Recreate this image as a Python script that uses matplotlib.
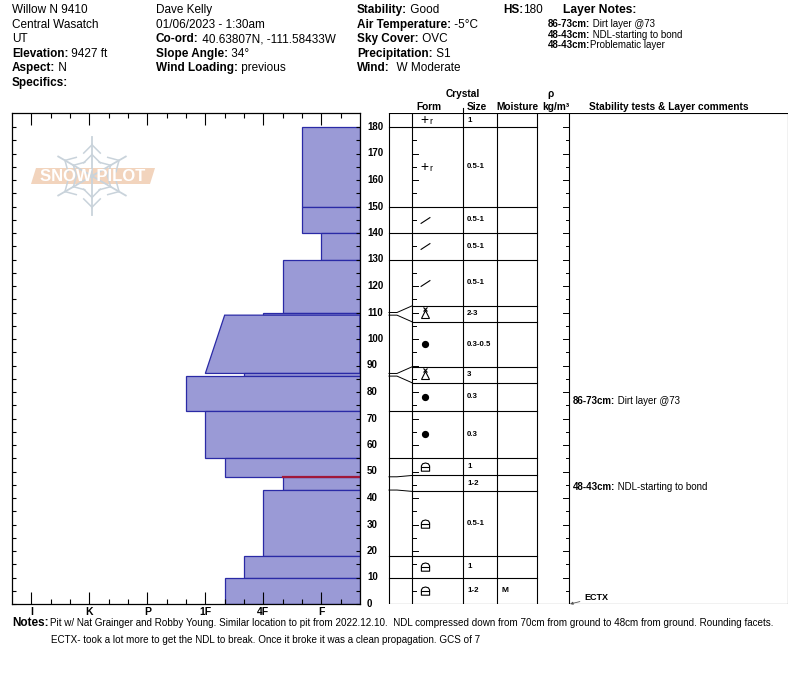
import matplotlib
matplotlib.use('Agg')
import matplotlib.pyplot as plt
import matplotlib.transforms as mtransforms
from matplotlib.path import Path
import numpy as np

plt.rcParams['font.family'] = ['Liberation Sans', 'DejaVu Sans']

# ---- pit header
site_lines = ['Willow N 9410', 'Central Wasatch', 'UT']
elevation = '9427 ft'
aspect = 'N'
observer = 'Dave Kelly'
date_time = '01/06/2023 - 1:30am'
coord = '40.63807N, -111.58433W'
slope_angle = '34°'
wind_loading = 'previous'
stability = 'Good'
air_temp = '-5°C'
sky_cover = 'OVC'
precip = 'S1'
wind = 'W Moderate'
hs = 180
layer_notes = [('86-73cm:', ' Dirt layer @73'),
               ('48-43cm:', ' NDL-starting to bond'),
               ('48-43cm:', 'Problematic layer')]
notes = ['Pit w/ Nat Grainger and Robby Young. Similar location to pit from 2022.12.10.  '
         'NDL compressed down from 70cm from ground to 48cm from ground. Rounding facets.',
         'ECTX- took a lot more to get the NDL to break. Once it broke it was a clean propagation. GCS of 7']

# ---- layers (cm from ground)
layer_top = [180, 180, 150, 140, 130, 110, 109, 87, 86, 73, 55, 48, 43, 18, 10]
layer_bot = [180, 150, 140, 130, 110, 109, 87, 86, 73, 55, 48, 43, 18, 10, 0]
hard_top = [None, 'F+', 'F+', 'F', '4F-', '4F', '1F-', '4F+', '1F+', '1F', '1F-', '4F-', '4F', '4F+', '1F-']
hard_bot = [None, 'F+', 'F+', 'F', '4F-', '4F', '1F', '4F+', '1F+', '1F', '1F-', '4F-', '4F', '4F+', '1F-']
grain = ['PPrm', 'PPrm', 'DF', 'DF', 'DF', 'SH', 'RG', 'SH', 'RG', 'RG', 'FCxr', '', 'FCxr', 'FCxr', 'FCxr']
grain_size = ['1', '0.5-1', '0.5-1', '0.5-1', '0.5-1', '2-3', '0.3-0.5', '3', '0.3', '0.3', '1', '1-2', '0.5-1', '1', '1-2']
moisture = ['', '', '', '', '', '', '', '', '', '', '', '', '', '', 'M']
problem_depth = 48
comment_layers = [(86, 73, 'Dirt layer @73'), (48, 43, 'NDL-starting to bond')]
tests = [('ECTX', 0)]
hardness_names = ['F', '4F', '1F', 'P', 'K', 'I']


def hard_val(h):
    base = h.rstrip('+-')
    v = hardness_names.index(base) * 3 + 2
    if h.endswith('+'):
        v += 1
    elif h.endswith('-'):
        v -= 1
    return v


W, H = 800, 676
fig = plt.figure(figsize=(8, 6.76), dpi=100)
renderer = fig.canvas.get_renderer()
ytop = (604 - 113) / 2.65  # cm at top of frame

# overlay in pixels for the logo
ov = fig.add_axes([0, 0, 1, 1])
ov.set_xlim(0, W)
ov.set_ylim(H, 0)
ov.axis('off')
cx, cy, R = 92, 176, 39
flake = '#c9d3db'
for k in range(6):
    a = np.pi / 2 + k * np.pi / 3
    ex, ey = np.cos(a), -np.sin(a)
    ov.plot([cx, cx + R * ex], [cy, cy + R * ey], color=flake, lw=1.3)
    for f in (0.55, 0.8):
        bx, by = cx + f * R * ex, cy + f * R * ey
        for s in (1, -1):
            b = a + s * np.pi / 4 + np.pi
            L = 0.3 * R
            ov.plot([bx, bx + L * np.cos(b)], [by, by - L * np.sin(b)], color=flake, lw=1.1)
ov.fill([36, 155, 150, 31], [168, 168, 184, 184], color='#f2d4bd', lw=0)
ov.text(93, 176.5, 'SNOW PILOT', color='white', fontsize=12, fontweight='bold',
        ha='center', va='center')

# ---- hardness profile
ax = fig.add_axes([12 / W, 1 - 604 / H, 348 / W, (604 - 113) / H])
ax.set_facecolor('none')
fill_c, edge_c = '#9a9ad6', '#2a2aa6'
for t, b, ht, hb in zip(layer_top, layer_bot, hard_top, hard_bot):
    if ht is None:
        continue
    ax.fill([0, hard_val(hb), hard_val(ht), 0], [b, b, t, t], facecolor=fill_c,
            edgecolor=edge_c, lw=0.9)
i = layer_top.index(problem_depth)
ax.plot([0, hard_val(hard_top[i])], [problem_depth, problem_depth], color='#a0183a', lw=1.6)
ax.set_xlim(18, 0)
ax.set_ylim(0, ytop)
majors = [hard_val(h) for h in hardness_names]
ax.set_xticks(majors)
ax.set_xticklabels(hardness_names, fontsize=7.5, fontweight='bold')
ax.set_xticks([v for v in range(1, 18) if v not in majors], minor=True)
ax.set_yticks(np.arange(0, 181, 5))
ax.set_yticklabels([])
ax.tick_params(axis='x', which='major', direction='in', length=8.5, width=0.8,
               top=True, bottom=True, pad=2)
ax.tick_params(axis='x', which='minor', direction='in', length=3.6, width=0.8,
               top=True, bottom=True)
ax.tick_params(axis='y', direction='in', length=3.2, width=0.8, left=True, right=True)
for s in ax.spines.values():
    s.set_linewidth(0.9)

# ---- table
tb = fig.add_axes([360 / W, 1 - 604 / H, 428 / W, (604 - 113) / H])
tb.set_xlim(360, 788)
tb.set_ylim(0, ytop)
tb.axis('off')
lc = 'black'
x_left, x_form, x_size, x_moist, x_rho, x_com, x_right = 389, 412, 463, 497, 537, 569, 788
for x in (x_left, x_form, x_size, x_moist, x_rho, x_com, x_right):
    tb.plot([x, x], [0, ytop], color=lc, lw=0.8)
tb.plot([x_size, x_size], [ytop, ytop + 2], color=lc, lw=0.8, clip_on=False)
tb.plot([x_left, x_right], [ytop, ytop], color=lc, lw=0.8)
tb.plot([x_left, x_right], [0, 0], color=lc, lw=0.8)

for d in np.arange(0, 181, 10):
    tb.text(367, d, str(d), fontsize=7, fontweight='bold', va='center', ha='left')
for d in np.arange(5, 185, 5):
    L = 6 if d % 10 == 0 else 3.5
    tb.plot([x_form, x_form + L], [d, d], color=lc, lw=0.7)
    tb.plot([x_com - L, x_com], [d, d], color=lc, lw=0.7)

# display rows: thin layers stretched to a minimum height
min_h = 6.0
disp_top = list(layer_top)
disp_bot = list(layer_bot)
for k in range(len(layer_top)):
    th = layer_top[k] - layer_bot[k]
    if k == 0 and th == 0:
        disp_top[k] = ytop
        continue
    if th < min_h:
        c = (layer_top[k] + layer_bot[k]) / 2
        disp_top[k] = c + min_h / 2
        disp_bot[k] = c - min_h / 2
for k in range(len(layer_top) - 1):
    if layer_top[k + 1] - layer_bot[k + 1] < min_h:
        disp_bot[k] = disp_top[k + 1]
    disp_top[k + 1] = disp_bot[k]

for k in range(len(layer_top) - 1):
    real = layer_bot[k]
    shown = disp_bot[k]
    if abs(real - shown) < 0.05:
        tb.plot([x_left, x_rho], [real, real], color=lc, lw=0.8)
    else:
        tb.plot([x_left, 397, x_form], [real, real, shown], color=lc, lw=0.7)
        tb.plot([x_form, x_rho], [shown, shown], color=lc, lw=0.8)

lock = Path([(0.5, 0.0), (0.5, 0.2), (0.35, 0.45), (0.0, 0.55), (-0.35, 0.45), (-0.5, 0.2),
             (-0.5, 0.0), (0.5, 0.0), (0.5, -0.45), (-0.5, -0.45), (-0.5, 0.0)])
slash = Path([(-1, -0.65), (1, 0.65)], [Path.MOVETO, Path.LINETO])
up = mtransforms.offset_copy(tb.transData, fig=fig, y=5, units='dots')
low = mtransforms.offset_copy(tb.transData, fig=fig, y=-1.5, units='dots')
fx = 425
for k in range(len(layer_top)):
    yc = (disp_top[k] + disp_bot[k]) / 2
    g = grain[k]
    if g.startswith('PP'):
        tb.text(fx - 1, yc, '+', fontsize=10, ha='center', va='center')
        tb.text(fx + 6, yc, 'r', fontsize=6.5, ha='center', va='center', transform=low)
    elif g == 'DF':
        tb.plot([fx], [yc], marker=slash, ms=7, mew=0.8, mec='black', mfc='none')
    elif g == 'RG':
        tb.plot([fx], [yc], marker='o', ms=4.2, color='black')
    elif g == 'SH':
        tb.plot([fx], [yc], marker='^', ms=5.5, mfc='white', mec='black', mew=0.8)
        tb.plot([fx], [yc], marker='x', ms=3.5, mec='black', mew=0.8, transform=up)
    elif g == 'FCxr':
        tb.plot([fx], [yc], marker=lock, ms=6.5, mfc='none', mec='black', mew=0.8)
    tb.text(467, yc, grain_size[k], fontsize=5.7, fontweight='bold', va='center', ha='left')
    if moisture[k]:
        tb.text(505, yc, moisture[k], fontsize=6, fontweight='bold', va='center', ha='center')

for t, b, txt in comment_layers:
    k = layer_top.index(t)
    yc = (disp_top[k] + disp_bot[k]) / 2 - 1.5
    lab = tb.text(573, yc, f'{t}-{b}cm:', fontsize=7, fontweight='bold', va='center')
    bb = lab.get_window_extent(renderer)
    fig.text(bb.x1 / W, 0, ' ' + txt, fontsize=7, va='center',
             transform=mtransforms.blended_transform_factory(fig.transFigure, tb.transData)).set_y(yc)

for name, d in tests:
    tb.annotate(name, xy=(570, d), xytext=(584, d + 2.4), fontsize=6.5, fontweight='bold',
                va='center', ha='left',
                arrowprops=dict(arrowstyle='-|>', color='#555555', lw=0.6, mutation_scale=4,
                                shrinkA=1, shrinkB=0))


# ---- header text
def kv(x, y, key, val, size=8.5):
    xf = x / W
    if key:
        t = fig.text(xf, 1 - y / H, key, fontsize=size, fontweight='bold', va='baseline')
        xf = t.get_window_extent(renderer).x1 / W
    if val:
        fig.text(xf, 1 - y / H, val, fontsize=size, va='baseline')


rows = [13.3, 27.8, 42.3, 56.8, 71.3, 85.8]
for r, s in zip(rows, site_lines):
    kv(12, r, '', s)
kv(12, rows[3], 'Elevation:', ' ' + elevation)
kv(12, rows[4], 'Aspect:', ' ' + aspect)
kv(12, rows[5], 'Specifics:', '')
kv(156, rows[0], '', observer)
kv(156, rows[1], '', date_time)
kv(156, rows[2], 'Co-ord:', ' ' + coord)
kv(156, rows[3], 'Slope Angle:', ' ' + slope_angle)
kv(156, rows[4], 'Wind Loading:', ' ' + wind_loading)
kv(357, rows[0], 'Stability:', ' ' + stability)
kv(357, rows[1], 'Air Temperature:', ' ' + air_temp)
kv(357, rows[2], 'Sky Cover:', ' ' + sky_cover)
kv(357, rows[3], 'Precipitation:', ' ' + precip)
kv(357, rows[4], 'Wind:', '  ' + wind)
kv(503, rows[0], 'HS:', str(hs))
kv(563, rows[0], 'Layer Notes:', '', size=8.7)
for yy, (k, v) in zip([27.3, 37.8, 48.3], layer_notes):
    kv(548, yy, k, v, size=7)

# table header
hdr = dict(fontsize=7.3, fontweight='bold', ha='center', va='baseline')
fig.text(463 / W, 1 - 97 / H, 'Crystal', **hdr)
fig.text(429 / W, 1 - 110 / H, 'Form', **hdr)
fig.text(477 / W, 1 - 110 / H, 'Size', **hdr)
fig.text(517 / W, 1 - 110 / H, 'Moisture', **hdr)
fig.text(550 / W, 1 - 97 / H, 'ρ', **hdr)
fig.text(556 / W, 1 - 110 / H, 'kg/m³', **hdr)
fig.text(669 / W, 1 - 110 / H, 'Stability tests & Layer comments', **hdr)

# notes
kv(12, 626, 'Notes:', '', size=8.5)
fig.text(50 / W, 1 - 626 / H, notes[0], fontsize=7.1, va='baseline',
         family=['Liberation Sans Narrow', 'Liberation Sans'])
fig.text(51 / W, 1 - 643 / H, notes[1], fontsize=7.1, va='baseline',
         family=['Liberation Sans Narrow', 'Liberation Sans'])

fig.savefig('out.png', dpi=100)
